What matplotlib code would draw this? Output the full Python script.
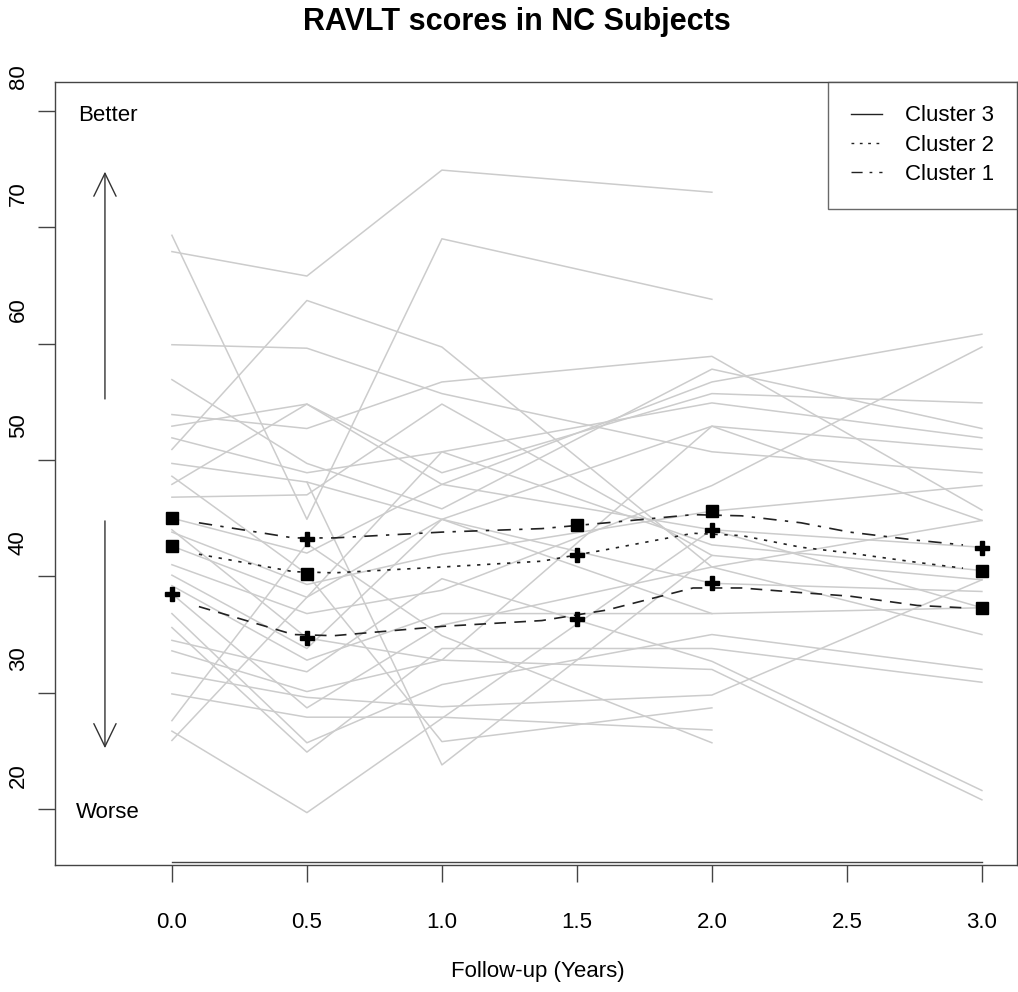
import numpy as np
import matplotlib
matplotlib.use("Agg")
import matplotlib.pyplot as plt
from matplotlib.lines import Line2D
from matplotlib.transforms import ScaledTranslation

plt.rcParams['font.family'] = ['Liberation Sans', 'DejaVu Sans']

# follow-up visits (years)
visits = [0.0, 0.5, 1.0, 2.0, 3.0]
nan = np.nan
# RAVLT score per subject at each visit (nan = missed visit)
subjects = [
    [67.9, 65.8, 74.9, 73.0, nan],
    [69.3, 44.9, 69.0, 63.8, nan],
    [59.9, 59.6, 55.7, 50.7, 48.9],
    [53.9, 52.7, 56.7, 58.9, 45.7],
    [50.9, 63.7, 59.7, 40.8, 44.8],
    [56.9, 49.7, 45.8, 57.8, 52.7],
    [52.9, 54.8, 47.9, 56.7, 60.8],
    [47.9, 54.8, 48.9, 55.7, 54.9],
    [51.9, 48.9, 50.7, 54.9, 51.9],
    [49.7, 48.1, 44.9, 52.9, 50.9],
    [46.8, 47.0, 54.8, 41.8, 39.7],
    [45.0, 42.0, 47.9, 44.0, 42.5],
    [43.8, 39.3, 41.9, 45.6, 47.8],
    [42.6, 38.2, 50.7, 42.7, 40.5],
    [41.0, 36.8, 38.8, 47.8, 59.7],
    [40.1, 33.8, 44.9, 39.4, 38.7],
    [39.2, 32.8, 36.8, 36.8, 37.3],
    [38.5, 28.7, 35.8, 40.8, 35.0],
    [36.8, 25.7, 30.7, 35.0, 32.0],
    [35.6, 24.9, 33.8, 33.8, 30.9],
    [34.5, 31.8, 39.8, 32.7, 21.6],
    [33.6, 30.1, 32.8, 32.0, 20.8],
    [31.7, 29.6, 28.8, 29.8, 39.7],
    [29.9, 27.9, 27.9, 26.8, nan],
    [27.6, 42.8, 34.9, 25.7, nan],
    [26.7, 19.7, nan, 44.0, 37.3],
    [nan, 48.1, 23.8, 41.8, nan],
    [25.9, 38.2, 44.9, 36.8, nan],
    [48.6, 40.2, 25.8, 28.7, nan],
    [44.0, 34.7, 32.8, 52.9, 44.8],
]

# cluster mean trajectories
mean_x = [0.0, 0.5, 1.5, 2.0, 3.0]
c_top = [45.0, 43.2, 44.4, 45.6, 42.4]
c_mid = [42.6, 40.2, 41.8, 44.0, 40.5]
c_bot = [38.5, 34.7, 36.3, 39.4, 37.3]
m_top = ['s', 'P', 's', 's', 'P']
m_mid = ['s', 's', 'P', 'P', 's']
m_bot = ['P', 'P', 'P', 'P', 's']
# smoothed curves drawn between the means
curve_x = [0.1, 0.45, 0.6, 1.0, 1.37, 1.61, 1.93, 2.11, 2.33, 2.51, 2.76, 2.93]
curve_top = [44.6, 43.3, 43.3, 43.8, 44.1, 44.6, 45.3, 45.2, 44.6, 43.8, 43.1, 42.7]
curve_mid = [41.9, 40.4, 40.3, 40.8, 41.3, 42.3, 43.7, 43.5, 42.5, 42.0, 41.2, 40.7]
curve_bot = [37.4, 35.0, 34.9, 35.7, 36.2, 37.1, 39.0, 39.0, 38.6, 38.3, 37.5, 37.3]

fig = plt.figure(figsize=(10.18, 9.92), dpi=100)
ax = fig.add_axes([55/1018, 1-865/992, 962/1018, (865-82)/992])

for s in subjects:
    s = np.array(s)
    ok = ~np.isnan(s)
    ax.plot(np.array(visits)[ok], s[ok], color='#cccccc', lw=1.1, zorder=1)

dark = '#222222'
ax.plot(curve_x, curve_top, color=dark, lw=1.2, ls=(0, (8, 5, 2, 5)), zorder=2)
ax.plot(curve_x, curve_mid, color=dark, lw=1.2, ls=(0, (2, 4)), zorder=2)
ax.plot(curve_x, curve_bot, color=dark, lw=1.2, ls=(0, (7, 5)), zorder=2)
for vals, marks in [(c_top, m_top), (c_mid, m_mid), (c_bot, m_bot)]:
    for x, y, m in zip(mean_x, vals, marks):
        ax.plot(x, y, marker=m, color='black', ms=8 if m == 's' else 10, zorder=3)

ax.set_xlim(-0.433, 3.13)
ax.set_ylim(15.2, 82.47)

# Better / Worse arrows
ax.annotate('', xy=(-0.248, 75), xytext=(-0.248, 55),
            arrowprops=dict(arrowstyle='->,head_length=1.65,head_width=0.8', lw=1, color='#333333'))
ax.annotate('', xy=(-0.248, 25), xytext=(-0.248, 45),
            arrowprops=dict(arrowstyle='->,head_length=1.65,head_width=0.8', lw=1, color='#333333'))
ax.text(-0.237, 79.6, 'Better', ha='center', va='center', fontsize=16)
ax.text(-0.237, 19.7, 'Worse', ha='center', va='center', fontsize=16)

# axes styling
for sp in ax.spines.values():
    sp.set_color('#444444')
    sp.set_linewidth(1)
ax.set_xticks([0, 0.5, 1, 1.5, 2, 2.5, 3])
ax.set_xticklabels(['0.0', '0.5', '1.0', '1.5', '2.0', '2.5', '3.0'])
ax.set_yticks(range(20, 81, 10))
ax.tick_params(axis='x', direction='out', length=12, width=1, color='#444444',
               labelsize=16, pad=22)
ax.tick_params(axis='y', direction='out', length=12, width=1, color='#444444',
               labelsize=16, pad=7)
ax.plot([0, 3], [15.45, 15.45], color='#444444', lw=1, clip_on=False)
off = ScaledTranslation(0, 34/100, fig.dpi_scale_trans)
for lab in ax.get_yticklabels():
    lab.set_rotation(90)
    lab.set_va('center')
    lab.set_transform(lab.get_transform() + off)

handles = [Line2D([], [], color=dark, lw=1, ls='-'),
           Line2D([], [], color=dark, lw=1, ls=(0, (2, 4))),
           Line2D([], [], color=dark, lw=1, ls=(0, (8, 5, 2, 5)))]
leg = ax.legend(handles, ['Cluster 3', 'Cluster 2', 'Cluster 1'], loc='upper right',
                fontsize=16, frameon=True, fancybox=False, borderaxespad=0,
                handlelength=1.4, handletextpad=1.0, labelspacing=0.38,
                borderpad=1.05)
leg.get_frame().set_edgecolor('#444444')
leg.get_frame().set_linewidth(1)

fig.text(517/1018, 1-22/992, 'RAVLT scores in NC Subjects', ha='center', va='center',
         fontsize=22, fontweight='bold')
fig.text(538/1018, 1-972/992, 'Follow-up (Years)', ha='center', va='center', fontsize=16)

fig.savefig('out.png', dpi=100)
